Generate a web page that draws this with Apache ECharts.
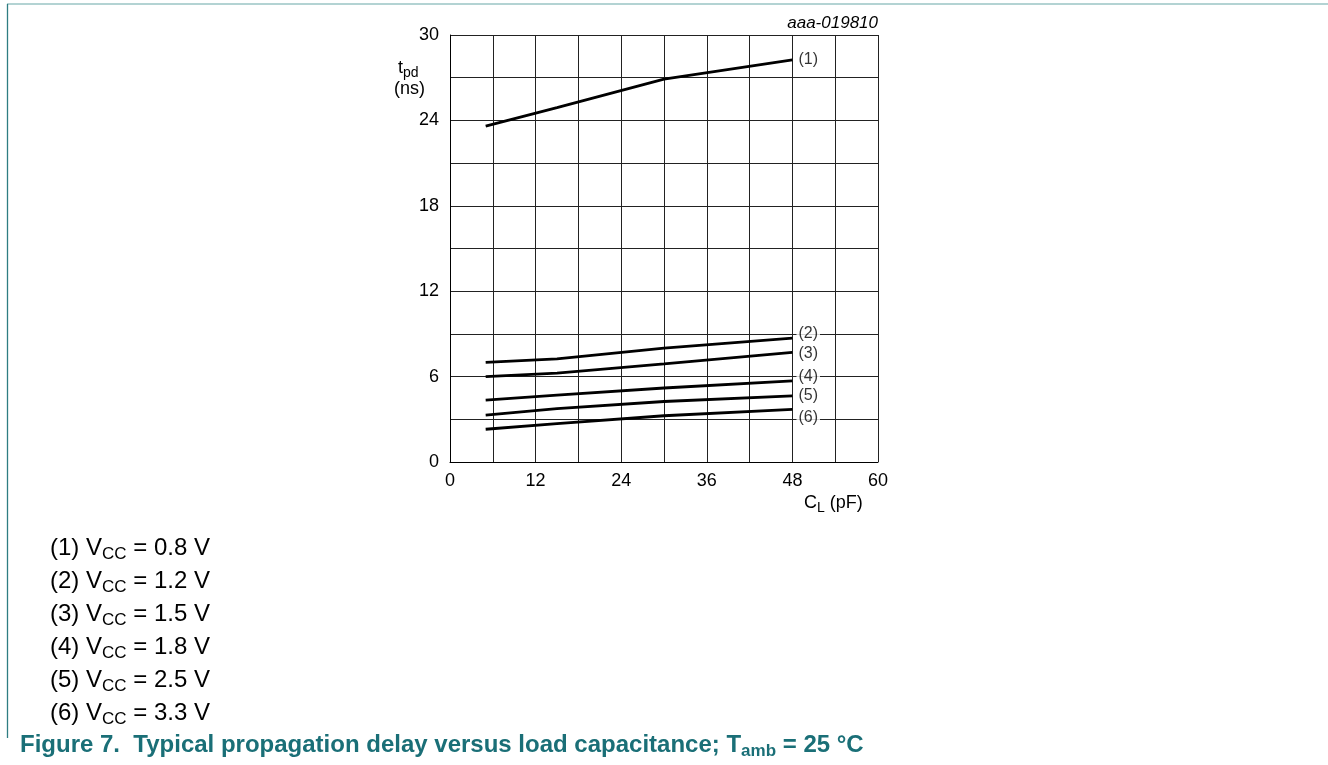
<!DOCTYPE html>
<html><head><meta charset="utf-8">
<script src="https://cdn.jsdelivr.net/npm/echarts@6/dist/echarts.min.js"></script>
<style>html,body{margin:0;padding:0;background:#fff}#c{width:1328px;height:765px}</style>
</head><body><div id="c"></div>
<script>
// ---- data ----
const capacitance = [5, 15, 30, 48];          // C_L (pF)
const tpd1 = [23.6, 24.9, 26.9, 28.25];       // VCC = 0.8 V
const tpd2 = [7.0, 7.25, 8.0, 8.7];           // VCC = 1.2 V
const tpd3 = [6.0, 6.25, 6.9, 7.7];           // VCC = 1.5 V
const tpd4 = [4.35, 4.7, 5.2, 5.7];           // VCC = 1.8 V
const tpd5 = [3.3, 3.75, 4.25, 4.65];         // VCC = 2.5 V
const tpd6 = [2.3, 2.7, 3.25, 3.7];           // VCC = 3.3 V
const curveNames = ['(1)', '(2)', '(3)', '(4)', '(5)', '(6)'];
const curveLabelY = [28.3, 9.0, 7.6, 6.0, 4.7, 3.1];
const curveLabelX = 48.5;
const vccValues = ['0.8', '1.2', '1.5', '1.8', '2.5', '3.3'];

const FONT = 'Liberation Sans, Arial, Helvetica, sans-serif';
const allCurves = [tpd1, tpd2, tpd3, tpd4, tpd5, tpd6];

const lineSeries = allCurves.map((vals, i) => ({
  type: 'line',
  name: curveNames[i],
  data: capacitance.map((c, j) => [c, vals[j]]),
  showSymbol: false,
  symbol: 'none',
  lineStyle: { color: '#000', width: 2.8 },
  z: 3,
  silent: true
}));

const labelSeries = {
  type: 'scatter',
  data: curveNames.map((n, i) => ({ value: [curveLabelX, curveLabelY[i]], name: n })),
  symbolSize: 1,
  itemStyle: { color: 'rgba(0,0,0,0)' },
  label: {
    show: true, position: 'right', distance: 0,
    formatter: p => p.name,
    fontFamily: FONT, fontSize: 16, color: '#000',
    backgroundColor: '#fff', padding: [0, 2]
  },
  z: 5, silent: true
};

const legendGraphics = vccValues.map((v, i) => ({
  type: 'text', left: 50, top: 533 + 33 * i,
  style: {
    text: '(' + (i + 1) + ') V{s|CC} = ' + v + ' V',
    fontFamily: FONT, fontSize: 24, lineHeight: 30, fill: '#000',
    rich: {
      s: { fontFamily: FONT, fontSize: 17, verticalAlign: 'bottom', lineHeight: 30 }
    }
  }
}));

const chart = echarts.init(document.getElementById('c'), null, { renderer: 'canvas' });
chart.setOption({
  animation: false,
  backgroundColor: '#fff',
  grid: { left: 450, right: 450, top: 35, bottom: 303, containLabel: false },
  xAxis: {
    type: 'value', min: 0, max: 60, interval: 12,
    axisLine: { show: true, lineStyle: { color: '#000', width: 1 } },
    axisTick: { show: false },
    axisLabel: { fontFamily: FONT, fontSize: 18, color: '#000', margin: 10 },
    splitLine: { show: true, lineStyle: { color: '#222', width: 1 } },
    minorTick: { show: false, splitNumber: 2 },
    minorSplitLine: { show: true, lineStyle: { color: '#222', width: 1 } }
  },
  yAxis: {
    type: 'value', min: 0, max: 30, interval: 6,
    axisLine: { show: true, lineStyle: { color: '#000', width: 1 } },
    axisTick: { show: false },
    axisLabel: { fontFamily: FONT, fontSize: 18, color: '#000', margin: 11 },
    splitLine: { show: true, lineStyle: { color: '#222', width: 1 } },
    minorTick: { show: false, splitNumber: 2 },
    minorSplitLine: { show: true, lineStyle: { color: '#222', width: 1 } }
  },
  series: lineSeries.concat([labelSeries]),
  graphic: [
    { type: 'line', shape: { x1: 7, y1: 4, x2: 1328, y2: 4 }, style: { stroke: '#b3d3d3', lineWidth: 2 } },
    { type: 'line', shape: { x1: 7.5, y1: 4, x2: 7.5, y2: 738 }, style: { stroke: '#2e7d82', lineWidth: 1.3 } },
    { type: 'text', right: 450, top: 15,
      style: { text: 'aaa-019810', fontFamily: FONT, fontSize: 17, fontStyle: 'italic', fill: '#000', align: 'right' } },
    { type: 'text', left: 398, top: 56,
      style: { text: 't{s|pd}', fontFamily: FONT, fontSize: 18, lineHeight: 24, fill: '#000',
        rich: { s: { fontFamily: FONT, fontSize: 14, verticalAlign: 'bottom', lineHeight: 24 } } } },
    { type: 'text', left: 394, top: 80,
      style: { text: '(ns)', fontFamily: FONT, fontSize: 18, fill: '#000' } },
    { type: 'text', left: 804, top: 491,
      style: { text: 'C{s|L} (pF)', fontFamily: FONT, fontSize: 18, lineHeight: 24, fill: '#000',
        rich: { s: { fontFamily: FONT, fontSize: 14, verticalAlign: 'bottom', lineHeight: 24 } } } },
    { type: 'text', left: 20, top: 730,
      style: { text: 'Figure 7.  Typical propagation delay versus load capacitance; T{s|amb} = 25 °C',
        fontFamily: FONT, fontSize: 24, lineHeight: 30, fontWeight: 'bold', fill: '#1a6f77',
        rich: { s: { fontFamily: FONT, fontSize: 17, fontWeight: 'bold', verticalAlign: 'bottom', lineHeight: 30, fill: '#1a6f77' } } } }
  ].concat(legendGraphics)
});
</script>
</body></html>
